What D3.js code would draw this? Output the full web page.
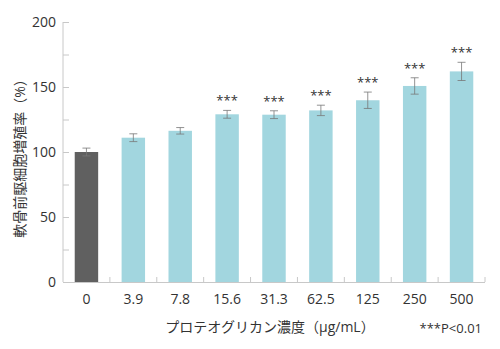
<!DOCTYPE html>
<html><head><meta charset="utf-8">
<script src="https://cdn.jsdelivr.net/npm/d3@7"></script>
<style>body{margin:0;background:#fff}svg{display:block}</style>
</head><body><svg id="c" width="500" height="349"></svg>
<script>
const categories = ["0","3.9","7.8","15.6","31.3","62.5","125","250","500"];
const values = [100, 111, 116.3, 129, 128.7, 132, 139.8, 150.8, 162];
const errors = [3, 3, 2.5, 3, 3, 4, 6.3, 6.3, 7];
const significant = [false,false,false,true,true,true,true,true,true];
const yTicks = [0,50,100,150,200];
const yMinorTicks = [0,25,50,75,100,125,150,175,200];
const xTitle = "プロテオグリカン濃度（μg/mL）";
const yTitle = "軟骨前駆細胞増殖率（%）";
const note = "***P<0.01";

const svg = d3.select("#c");
const m = {l:63, r:15, t:22, b:67};
const W = 500, H = 349;
const x = d3.scaleBand().domain(categories).range([m.l, W - m.r]).paddingInner(0.5).paddingOuter(0.25);
const y = d3.scaleLinear().domain([0,200]).range([H - m.b, m.t]);
const font = "'Open Sans','Noto Sans CJK JP',sans-serif";
const axisCol = "#c8c8c8", textCol = "#333";

// y axis
const gy = svg.append("g").attr("transform",`translate(${m.l},0)`);
gy.append("line").attr("x1",0).attr("x2",0).attr("y1",y(0)).attr("y2",y(200)).attr("stroke",axisCol);
gy.selectAll(".mt").data(yMinorTicks).join("line").attr("x1",0).attr("x2",6)
  .attr("y1",d=>y(d)+0.5).attr("y2",d=>y(d)+0.5).attr("stroke",axisCol);
gy.selectAll(".yl").data(yTicks).join("text").attr("x",-7).attr("y",d=>y(d)).attr("dy","0.35em")
  .attr("text-anchor","end").attr("font-family",font).attr("font-size",14).attr("fill",textCol).text(d=>d);

// x axis
const gx = svg.append("g");
const x0 = m.l, x1 = W - m.r;
gx.append("line").attr("x1",x0).attr("x2",x1).attr("y1",y(0)+0.5).attr("y2",y(0)+0.5).attr("stroke",axisCol);
const step = x.step();
const boundaries = categories.map(c => x(c) + x.bandwidth()/2 + step/2);
gx.selectAll(".xt").data(boundaries).join("line")
  .attr("x1",d=>d).attr("x2",d=>d).attr("y1",y(0)).attr("y2",y(0)-5).attr("stroke",axisCol);
gx.selectAll(".xl").data(categories).join("text").attr("x",d=>x(d)+x.bandwidth()/2).attr("y",y(0)+17).attr("dy","0.35em")
  .attr("text-anchor","middle").attr("font-family",font).attr("font-size",14).attr("fill",textCol).text(d=>d);

// bars
svg.selectAll(".bar").data(categories).join("rect")
  .attr("x",d=>x(d)).attr("width",x.bandwidth())
  .attr("y",(d,i)=>y(values[i])).attr("height",(d,i)=>y(0)-y(values[i]))
  .attr("fill",(d,i)=> i===0 ? "#606060" : "#a2d6df");

// error bars
const eg = svg.append("g").attr("stroke","#777").attr("stroke-width",0.8);
categories.forEach((c,i)=>{
  const cx = x(c)+x.bandwidth()/2;
  const top = y(values[i]+errors[i]), bot = y(values[i]-errors[i]);
  eg.append("line").attr("x1",cx).attr("x2",cx).attr("y1",top).attr("y2",bot);
  eg.append("line").attr("x1",cx-4).attr("x2",cx+4).attr("y1",top).attr("y2",top);
  eg.append("line").attr("x1",cx-4).attr("x2",cx+4).attr("y1",bot).attr("y2",bot);
});

// significance
svg.selectAll(".sig").data(categories.filter((c,i)=>significant[i])).join("text")
  .attr("x",d=>x(d)+x.bandwidth()/2)
  .attr("y",d=>{const i=categories.indexOf(d); return y(values[i]+errors[i]) - 5;})
  .attr("text-anchor","middle").attr("font-family",font).attr("font-size",13).attr("fill",textCol).text("***");

// titles
svg.append("text").attr("x",270).attr("y",327).attr("dy","0.35em").attr("text-anchor","middle")
  .attr("font-family",font).attr("font-size",14).attr("fill",textCol).text(xTitle);
svg.append("text").attr("transform","translate(20,155) rotate(-90)").attr("dy","0.35em").attr("text-anchor","middle")
  .attr("font-family",font).attr("font-size",14).attr("fill",textCol).text(yTitle);
svg.append("text").attr("x",482).attr("y",328).attr("dy","0.35em").attr("text-anchor","end")
  .attr("font-family",font).attr("font-size",13).attr("fill",textCol).text(note);
</script></body></html>
